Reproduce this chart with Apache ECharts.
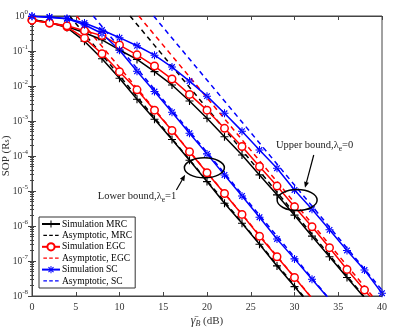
<!DOCTYPE html>
<html><head><meta charset="utf-8">
<script src="https://cdn.jsdelivr.net/npm/echarts@6/dist/echarts.min.js"></script>
<style>html,body{margin:0;padding:0;background:#fff}#c{width:399px;height:331px}</style>
</head><body><div id="c"></div>
<script>
// ---- data ----
const snr = [0,2,4,6,8,10,12,14,16,18,20,22,24,26,28,30,32,34,36,38,40];
// lower bound (lambda_e = 1)
const lowerMRC = [0.794,0.646,0.468,0.191,0.0603,0.0166,4.17e-3,1.12e-3,2.95e-4,7.59e-5,1.86e-5,4.47e-6,1.20e-6,3.02e-7,7.24e-8,1.86e-8,4.68e-9];
const lowerEGC = [0.759,0.631,0.490,0.234,0.0832,0.0257,7.76e-3,2.04e-3,5.37e-4,1.32e-4,3.31e-5,8.51e-6,2.14e-6,5.13e-7,1.32e-7,3.39e-8,8.51e-9];
const lowerSC  = [0.977,0.912,0.832,0.562,0.316,0.105,0.0263,6.92e-3,1.78e-3,4.47e-4,1.15e-4,2.88e-5,7.24e-6,1.78e-6,4.27e-7,1.15e-7,3.02e-8,7.94e-9];
// upper bound (lambda_e = 0)
const upperMRC = [0.794,0.646,0.501,0.331,0.209,0.107,0.0575,0.0257,0.0107,3.72e-3,1.20e-3,3.55e-4,1.07e-4,2.88e-5,7.76e-6,2.04e-6,5.13e-7,1.32e-7,3.39e-8,8.91e-9];
const upperEGC = [0.759,0.631,0.525,0.380,0.275,0.148,0.0776,0.0372,0.0158,5.75e-3,2.04e-3,6.17e-4,1.86e-4,5.01e-5,1.38e-5,3.55e-6,9.55e-7,2.40e-7,5.75e-8,1.48e-8,3.98e-9];
const upperSC  = [0.977,0.933,0.851,0.631,0.398,0.240,0.141,0.0759,0.0347,0.0138,5.13e-3,1.66e-3,5.13e-4,1.48e-4,4.47e-5,1.07e-5,3.02e-6,7.76e-7,2.00e-7,5.50e-8,1.20e-8];
// asymptotic straight lines: [snr start, snr end], [SOP start, SOP end]
const asymX = {lowMRC:[4.3,31.0], lowEGC:[5.1,31.8], lowSC:[7.0,33.7], upMRC:[11.2,37.9], upEGC:[12.2,38.9], upSC:[13.9,40]};
const asymY = {lowMRC:[1,1e-8], lowEGC:[1,1e-8], lowSC:[1,1e-8], upMRC:[1,1e-8], upEGC:[1,1e-8], upSC:[1,1.48e-8]};
const xTicks = [0,5,10,15,20,25,30,35,40];
const legendNames = ['Simulation MRC','Asymptotic, MRC','Simulation EGC','Asymptotic, EGC','Simulation SC','Asymptotic, SC'];
// annotations in data coordinates
const annLower = {ell:[19.7,4.6e-5], tip:[17.5,2.9e-5], tail:[16.5,1.07e-5], text:[12.0,7.2e-6]};
const annUpper = {ell:[30.3,5.5e-6], tip:[31.2,1.23e-5], tail:[32.2,1.07e-4], text:[32.3,2.0e-4]};

const FONT = 'Liberation Serif';
const BLACK = '#000000', RED = '#ff0000', BLUE = '#0000ff';
const PLUS = 'path://M-1,-0.14H1V0.14H-1Z M-0.14,-1H0.14V1H-0.14Z';
const STAR = 'path://M-1,-0.13H1V0.13H-1Z M-0.13,-1H0.13V1H-0.13Z M-0.806,-0.594L0.594,0.806L0.806,0.594L-0.594,-0.806Z M-0.594,0.806L0.806,-0.594L0.594,-0.806L-0.806,0.594Z';
const DASH_ICON = 'path://M0,0H0.01V0.01H0Z M0,10H0.01V10.01H0Z M0,4.3H4V5.7H0Z M6.5,4.3H10.5V5.7H6.5Z M13,4.3H17V5.7H13Z';

function pairs(xArr, yArr){ return yArr.map((v,i)=>[xArr[i], v]); }
function sim(name, vals, color, symbol, size, empty){
  return {name, type:'line', data:pairs(snr, vals), symbol, symbolSize:size, showSymbol:true,
    lineStyle:{color, width:1.5}, itemStyle: empty ? {color:'#fff', borderColor:color, borderWidth:1.5} : {color, borderColor:color, borderWidth:0},
    color, clip:true, animation:false, z:3};
}
function asym(name, key, color){
  return {name, type:'line', data:pairs(asymX[key], asymY[key]), symbol:'none', showSymbol:false,
    lineStyle:{color, width:1.5, type:[5,4]}, itemStyle:{color}, color, clip:true, animation:false, z:2};
}
function sup(v){ const e = Math.round(Math.log10(v)); return '{b|10}{s|' + e + '}'; }

const chart = echarts.init(document.getElementById('c'), null, {renderer:'canvas'});
const axisLine = {show:true, lineStyle:{color:'#444', width:1}};
const option = {
  animation:false,
  backgroundColor:'#fff',
  grid:{left:32, right:17, top:16, bottom:35, show:true, borderColor:'#444', borderWidth:1, containLabel:false, outerBoundsMode:'none'},
  legend:{
    data:legendNames.map(n => n.startsWith('Asymptotic') ? {name:n, icon:DASH_ICON} : {name:n}),
    orient:'vertical', left:39, top:217, itemWidth:18, itemHeight:9, itemGap:1.4,
    backgroundColor:'#fff', borderColor:'#333', borderWidth:1, borderRadius:0, padding:[2,3,2,2],
    textStyle:{fontFamily:FONT, fontSize:9.5, color:'#000', padding:[0,0,0,-3], lineHeight:10}
  },
  xAxis:[
    {type:'value', min:0, max:40, interval:5, position:'bottom',
     axisLine, axisTick:{inside:true, length:4, lineStyle:{color:'#444'}},
     axisLabel:{fontFamily:FONT, fontSize:10, color:'#333', margin:6, formatter:v=>xTicks.includes(v)?String(v):''},
     splitLine:{show:false},
     name:'{g|γ̄}{sb|B}{t| (dB)}', nameLocation:'middle', nameGap:18, nameMoveOverlap:false,
     nameTextStyle:{rich:{g:{fontFamily:FONT, fontSize:12, fontStyle:'italic', color:'#333'}, sb:{fontFamily:FONT, fontSize:8, fontStyle:'italic', color:'#333', padding:[6,0,0,0]}, t:{fontFamily:FONT, fontSize:11, color:'#333'}}}},
    {type:'value', min:0, max:40, interval:5, position:'top',
     axisLine, axisTick:{inside:true, length:4, lineStyle:{color:'#444'}}, axisLabel:{show:false}, splitLine:{show:false}}
  ],
  yAxis:[
    {type:'log', logBase:10, min:1e-8, max:1, position:'left',
     axisLine, axisTick:{inside:true, length:4, lineStyle:{color:'#444'}},
     minorTick:{show:true, splitNumber:9, length:2, lineStyle:{color:'#444'}},
     axisLabel:{formatter:sup, margin:4, rich:{b:{fontFamily:FONT, fontSize:9.5, color:'#333'}, s:{fontFamily:FONT, fontSize:7, color:'#333', padding:[0,0,7,0]}}},
     splitLine:{show:false}, minorSplitLine:{show:false},
     name:'{a|SOP (R}{s|s}{a|)}', nameLocation:'middle', nameGap:20, nameMoveOverlap:false,
     nameTextStyle:{rich:{a:{fontFamily:FONT, fontSize:11, color:'#333'}, s:{fontFamily:FONT, fontSize:8, color:'#333', padding:[0,0,0,0]}}}},
    {type:'log', logBase:10, min:1e-8, max:1, position:'right',
     axisLine, axisTick:{inside:true, length:4, lineStyle:{color:'#444'}},
     minorTick:{show:true, splitNumber:9, length:2, lineStyle:{color:'#444'}},
     axisLabel:{show:false}, splitLine:{show:false}, minorSplitLine:{show:false}}
  ],
  series:[
    sim('Simulation MRC', lowerMRC, BLACK, PLUS, 8, false),
    sim('Simulation MRC', upperMRC, BLACK, PLUS, 8, false),
    asym('Asymptotic, MRC', 'lowMRC', BLACK),
    asym('Asymptotic, MRC', 'upMRC', BLACK),
    sim('Simulation EGC', lowerEGC, RED, 'circle', 7.5, true),
    sim('Simulation EGC', upperEGC, RED, 'circle', 7.5, true),
    asym('Asymptotic, EGC', 'lowEGC', RED),
    asym('Asymptotic, EGC', 'upEGC', RED),
    sim('Simulation SC', lowerSC, BLUE, STAR, 8, false),
    sim('Simulation SC', upperSC, BLUE, STAR, 8, false),
    asym('Asymptotic, SC', 'lowSC', BLUE),
    asym('Asymptotic, SC', 'upSC', BLUE)
  ]
};
chart.setOption(option);

function px(p){ return chart.convertToPixel({xAxisIndex:0, yAxisIndex:0}, p); }
function arrow(tail, tip){
  const a = px(tail), b = px(tip);
  const dx = b[0]-a[0], dy = b[1]-a[1], L = Math.hypot(dx,dy), ux = dx/L, uy = dy/L;
  const hl = 6, hw = 2.5;
  const base = [b[0]-ux*hl, b[1]-uy*hl];
  return [
    {type:'line', shape:{x1:a[0], y1:a[1], x2:base[0], y2:base[1]}, style:{stroke:'#000', lineWidth:1.2}, z:10},
    {type:'polygon', shape:{points:[b, [base[0]-uy*hw, base[1]+ux*hw], [base[0]+uy*hw, base[1]-ux*hw]]}, style:{fill:'#000'}, z:10}
  ];
}
function ellipse(c, rx, ry){
  const p = px(c);
  return {type:'ellipse', shape:{cx:p[0], cy:p[1], rx, ry}, style:{fill:null, stroke:'#000', lineWidth:1.5}, z:10};
}
function label(pos, txt){
  const p = px(pos);
  return {type:'text', x:p[0], y:p[1], z:11, style:{text:txt, align:'center', verticalAlign:'middle',
    rich:{n:{fontFamily:FONT, fontSize:10.5, fill:'#222'}, s:{fontFamily:FONT, fontSize:7.5, fill:'#222', padding:[8,0,0,0]}}}};
}
chart.setOption({graphic:[
  ellipse(annLower.ell, 20, 10), ...arrow(annLower.tail, annLower.tip), label(annLower.text, '{n|Lower bound,λ}{s|e}{n|=1}'),
  ellipse(annUpper.ell, 20, 10.5), ...arrow(annUpper.tail, annUpper.tip), label(annUpper.text, '{n|Upper bound,λ}{s|e}{n|=0}')
]});
</script></body></html>
